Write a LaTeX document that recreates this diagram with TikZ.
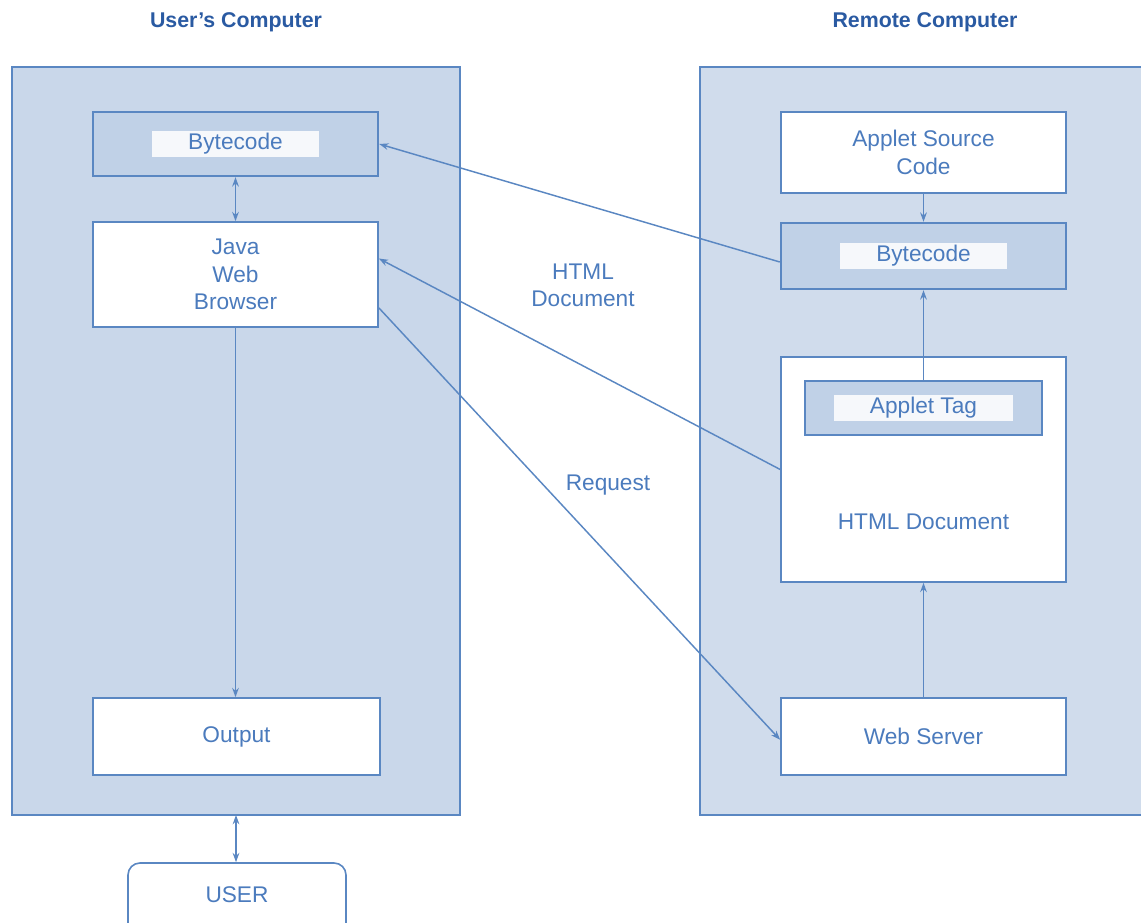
\documentclass[tikz,border=0pt]{standalone}
\usepackage{fontspec}
\setmainfont{Liberation Sans}
\usetikzlibrary{arrows.meta}

\definecolor{panelblue}{HTML}{C9D7EA}
\definecolor{panelblueR}{HTML}{D0DCEC}
\definecolor{boxblue}{HTML}{C0D1E7}
\definecolor{edgeblue}{HTML}{5A87C2}
\definecolor{textblue}{HTML}{4B7BBD}
\definecolor{titleblue}{HTML}{2A5AA2}

\newcommand{\glowtext}[1]{{\setlength{\fboxsep}{1.5pt}\colorbox{white!85!boxblue}{\hspace{1.5em}#1\hspace{1.5em}}}}

\tikzset{every picture/.style={line width=0.75pt}}
\tikzset{
  plainbox/.style={draw=edgeblue, line width=1.2pt, fill=white, text=textblue, align=center,
    inner sep=0pt, font=\fontsize{17}{20.5}\selectfont},
  bytebox/.style={plainbox, fill=boxblue, line width=1.8pt},
  title/.style={text=titleblue, font=\bfseries\fontsize{16}{19}\selectfont, inner sep=0.75pt},
  flowlabel/.style={text=textblue, align=center, inner sep=0.75pt, font=\fontsize{17}{20.5}\selectfont},
  link/.style={draw=edgeblue, line width=1.1pt, -{Stealth[length=7pt,width=5pt]}},
  twolink/.style={link, {Stealth[length=7pt,width=5pt]}-{Stealth[length=7pt,width=5pt]}}
}

\begin{document}
\begin{tikzpicture}[x=0.75pt,y=0.75pt,yscale=-1,xscale=1]
\useasboundingbox (0,0) rectangle (1141,923);

%Shape: Rectangle [user's computer]
\draw [draw=edgeblue, fill=panelblue, line width=1.2pt] (12,67) rectangle (460,815);
%Shape: Rectangle [remote computer]
\draw [draw=edgeblue, fill=panelblueR, line width=1.2pt] (700,67) rectangle (1150,815);

% Titles
\node [title] (usertitle) at (236,22) {User's Computer};
\node [title] (remotetitle) at (925,22) {Remote Computer};

% Left side boxes
\node [bytebox, minimum width=213.75pt, minimum height=48pt] (byteL) at (235.5,144) {\glowtext{Bytecode}};
\node [plainbox, minimum width=213.75pt, minimum height=78.75pt] (browser) at (235.5,274.5) {Java\\Web\\Browser};
\node [plainbox, minimum width=215.25pt, minimum height=57.75pt] (output) at (236.5,736.5) {Output};
\node [plainbox, rounded corners=9pt, minimum width=163.5pt, minimum height=54pt, text depth=0pt] (user) at (237,899) {\raisebox{7pt}{USER}};
\coordinate (lbot) at (236,815);

% Right side boxes
\node [plainbox, minimum width=213.75pt, minimum height=60.75pt] (source) at (923.5,152.5) {Applet Source\\Code};
\node [bytebox, minimum width=213.75pt, minimum height=49.5pt] (byteR) at (923.5,256) {\glowtext{Bytecode}};
\node [plainbox, minimum width=213.75pt, minimum height=168.75pt] (html) at (923.5,469.5) {};
\node [flowlabel] (htmltext) at (923.5,522) {HTML Document};
\node [bytebox, line width=1.5pt, minimum width=177.75pt, minimum height=40.5pt] (tag) at (923.5,408) {\glowtext{Applet Tag}};
\node [plainbox, minimum width=213.75pt, minimum height=57.75pt] (server) at (923.5,736.5) {Web Server};

% Text Node
\node [flowlabel] (htmllabel) at (583,285) {HTML\\Document};
% Text Node
\node [flowlabel] (reqlabel) at (608,485) {Request};

% Connectors, user's computer
\draw [twolink] (byteL.south -| browser.north) -- (browser.north);
\draw [link] (browser.south) -- (browser.south |- output.north);
\draw [twolink] (lbot) -- (lbot |- user.north);

% Connectors, remote computer
\draw [link] (source.south) -- (byteR.north);
\draw [link] (tag.north) -- (byteR.south);
\draw [link] (server.north) -- (html.south);

% Connectors across (yscale=-1 flips yshift)
\draw [link] ([yshift=4.5pt]byteR.west) -- (byteL.east);
\draw [link] (html.west) -- ([yshift=-12pt]browser.east);
\draw [link] ([yshift=25pt]browser.east) -- ([yshift=2.5pt]server.west);

\end{tikzpicture}
\end{document}
